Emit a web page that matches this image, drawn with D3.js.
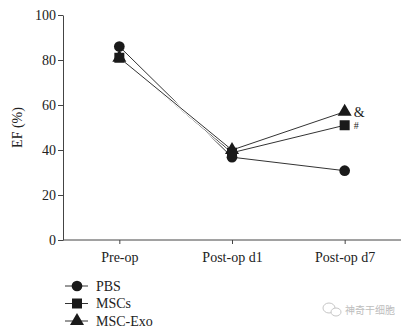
<!DOCTYPE html>
<html>
<head>
<meta charset="utf-8">
<script src="https://cdn.jsdelivr.net/npm/d3@7"></script>
<style>
  body { margin: 0; background: #fff; }
  svg { display: block; font-family: "Liberation Serif", "DejaVu Serif", serif; }
</style>
</head>
<body>
<div id="chart"></div>
<script>
const timepoints = ["Pre-op", "Post-op d1", "Post-op d7"];
const groups = ["PBS", "MSCs", "MSC-Exo"];
const pbs = [86, 36.8, 30.8];
const mscs = [81, 38.8, 51];
const mscExo = [81, 40, 57];
const marks = ["", "#", "&"];
const yTicks = [0, 20, 40, 60, 80, 100];

const width = 409, height = 327;
const margin = {top: 15, right: 8, bottom: 87, left: 63};
const series = [
  {name: groups[0], values: pbs, symbol: d3.symbolCircle, size: 90},
  {name: groups[1], values: mscs, symbol: d3.symbolSquare, size: 100},
  {name: groups[2], values: mscExo, symbol: d3.symbolTriangle, size: 85}
];

const svg = d3.select("#chart").append("svg")
  .attr("width", width)
  .attr("height", height);

const x = d3.scalePoint(timepoints, [margin.left, width - margin.right]).padding(0.5);
const y = d3.scaleLinear([0, 100], [height - margin.bottom, margin.top]);

const axisColor = "#444";
const fontSize = 14;

svg.append("g")
  .attr("transform", `translate(${margin.left},0)`)
  .call(d3.axisLeft(y).tickValues(yTicks).tickSize(5).tickSizeOuter(0))
  .call(g => g.select(".domain").attr("stroke", axisColor))
  .call(g => g.selectAll(".tick line").attr("stroke", axisColor))
  .call(g => g.selectAll(".tick text")
    .attr("font-family", "Liberation Serif, serif")
    .attr("font-size", fontSize)
    .attr("fill", "#222")
    .attr("x", -7));

svg.append("g")
  .attr("transform", `translate(0,${height - margin.bottom})`)
  .call(d3.axisBottom(x).tickSize(4).tickSizeOuter(0))
  .call(g => g.select(".domain").attr("stroke", axisColor).attr("d", `M${margin.left},0H${width - margin.right}`))
  .call(g => g.selectAll(".tick line").attr("stroke", axisColor))
  .call(g => g.selectAll(".tick text")
    .attr("font-family", "Liberation Serif, serif")
    .attr("font-size", fontSize)
    .attr("fill", "#222")
    .attr("y", 12));

svg.append("text")
  .attr("transform", `translate(22,${y(50)}) rotate(-90)`)
  .attr("text-anchor", "middle")
  .attr("font-size", fontSize)
  .attr("fill", "#222")
  .text("EF (%)");

const line = d3.line()
  .x((d, i) => x(timepoints[i]))
  .y(d => y(d));

// draw lines first as a white halo + dark stroke so overlaps stay readable
series.forEach(s => {
  svg.append("path")
    .datum(s.values)
    .attr("fill", "none")
    .attr("stroke", "#fff")
    .attr("stroke-width", 3)
    .attr("d", line);
  svg.append("path")
    .datum(s.values)
    .attr("fill", "none")
    .attr("stroke", "#333")
    .attr("stroke-width", 1)
    .attr("d", line);
});

series.slice().reverse().forEach(s => {
  svg.append("g")
    .selectAll("path")
    .data(s.values)
    .join("path")
    .attr("transform", (d, i) => `translate(${x(timepoints[i])},${y(d)})`)
    .attr("d", d3.symbol(s.symbol, s.size))
    .attr("fill", "#1a1a1a");
});

// significance marks next to the last point
series.forEach((s, k) => {
  if (!marks[k]) return;
  svg.append("text")
    .attr("x", x(timepoints[2]) + 9)
    .attr("y", y(s.values[2]))
    .attr("dy", "0.35em")
    .attr("font-size", marks[k] === "#" ? 10 : 14)
    .attr("fill", "#222")
    .text(marks[k]);
});

// legend
const legend = svg.append("g").attr("transform", "translate(65,286)");
series.forEach((s, i) => {
  const row = legend.append("g").attr("transform", `translate(0,${i * 17.5})`);
  row.append("line")
    .attr("x1", 0).attr("x2", 23)
    .attr("stroke", "#333").attr("stroke-width", 1);
  row.append("path")
    .attr("transform", "translate(12,0)")
    .attr("d", d3.symbol(s.symbol, s.size))
    .attr("fill", "#1a1a1a");
  row.append("text")
    .attr("x", 31)
    .attr("dy", "0.35em")
    .attr("font-size", fontSize)
    .attr("fill", "#222")
    .text(s.name);
});

// watermark
const wm = svg.append("g").attr("transform", "translate(333,310)").attr("opacity", 0.55);
wm.append("ellipse").attr("cx", -4).attr("cy", -2).attr("rx", 6).attr("ry", 5)
  .attr("fill", "none").attr("stroke", "#999");
wm.append("ellipse").attr("cx", 3).attr("cy", 2).attr("rx", 5).attr("ry", 4)
  .attr("fill", "#fff").attr("stroke", "#999");
wm.append("text")
  .attr("x", 12)
  .attr("dy", "0.35em")
  .attr("font-family", "Noto Sans CJK SC, sans-serif")
  .attr("font-size", 10)
  .attr("fill", "#888")
  .text("神奇干细胞");
</script>
</body>
</html>
